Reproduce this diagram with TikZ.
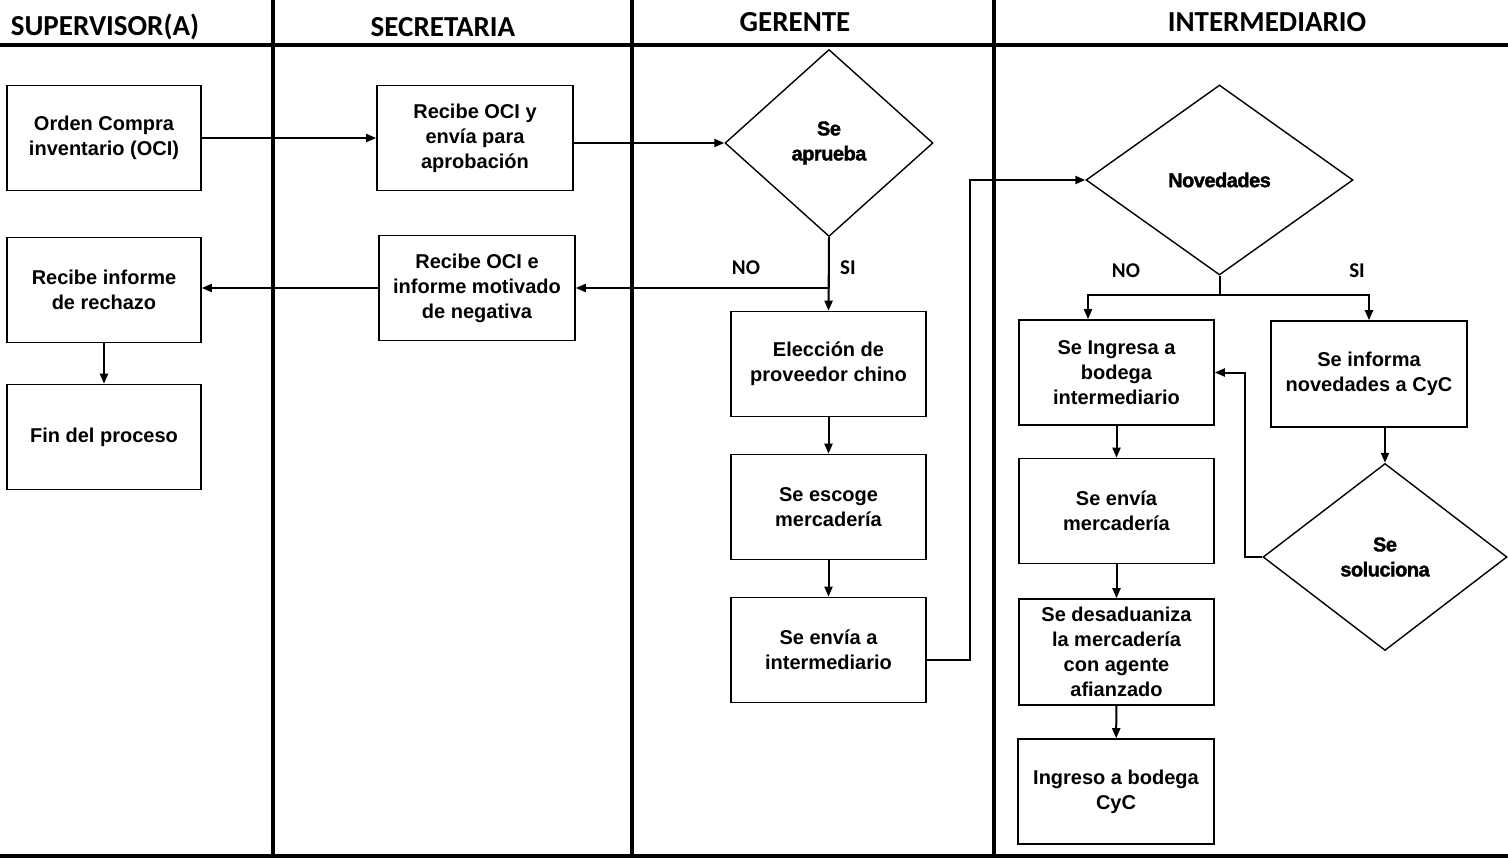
\documentclass[tikz,border=0pt]{standalone}
\usepackage{fontspec}
\setmainfont{Liberation Sans}
\newfontfamily\hdrfont{Carlito}
\newfontfamily\decfont[FakeBold=1.6,LetterSpace=-2.5]{Liberation Sans Bold}
\usetikzlibrary{shapes.geometric,arrows.meta,calc}
\newcommand\myBody{\bfseries\fontsize{20}{25}\selectfont}
\newcommand\myDec{\decfont\fontsize{20}{25}\selectfont}
\begin{document}
\begin{tikzpicture}[x=1pt,y=-1pt,
 lane/.style={line width=3.5pt},
 proc/.style={draw,line width=1.6pt,minimum width=195pt,minimum height=105pt,inner sep=0pt,align=center,font=\myBody},
 dec/.style={draw,diamond,line width=1.4pt,inner sep=0pt,align=center,font=\myDec},
 arr/.style={line width=2pt,-{Triangle[length=10pt,width=8pt]}},
 conn/.style={line width=2pt},
 hdr/.style={font=\hdrfont\bfseries\fontsize{29}{34}\selectfont},
 lbl/.style={font=\hdrfont\bfseries\fontsize{21}{24}\selectfont}]
\fill[white] (0,0) rectangle (1508,859);
\useasboundingbox (0,0) rectangle (1508,859);
% lanes
\draw[lane] (0,45) -- (1508,45);
\draw[lane] (0,856) -- (1508,856);
\draw[lane] (273,0) -- (273,856);
\draw[lane] (632,0) -- (632,856);
\draw[lane] (994,0) -- (994,856);
% headers
\node[hdr] (h1) at (105,27) {SUPERVISOR(A)};
\node[hdr] (h2) at (443,27) {SECRETARIA};
\node[hdr] (h3) at (795,22) {GERENTE};
\node[hdr] (h4) at (1267,22) {INTERMEDIARIO};
% nodes
\node[proc,minimum width=194pt] (b1) at (104,138) {Orden Compra\\inventario (OCI)};
\node[proc,minimum width=196pt] (b2) at (475,138) {Recibe OCI y\\envía para\\aprobación};
\node[dec,minimum width=208pt,minimum height=187pt] (d1) at (829,143) {Se\\aprueba};
\node[proc,minimum width=194pt] (b3) at (104,290) {Recibe informe\\de rechazo};
\node[proc,minimum width=196pt] (b4) at (477,288) {Recibe OCI e\\informe motivado\\de negativa};
\node[proc,minimum width=194pt] (b5) at (104,437) {Fin del proceso};
\node[proc] (e1) at (828.5,364) {Elección de\\proveedor chino};
\node[proc] (e2) at (828.5,507) {Se escoge\\mercadería};
\node[proc] (e3) at (828.5,650) {Se envía a\\intermediario};
\node[dec,minimum width=267pt,minimum height=190pt] (n1) at (1219.5,180) {Novedades};
\node[proc] (i1) at (1116.5,372.5) {Se Ingresa a\\bodega\\intermediario};
\node[proc,minimum width=196pt,minimum height=106pt] (i2) at (1369,374) {Se informa\\novedades a CyC};
\node[dec,minimum width=244pt,minimum height=187pt] (s1) at (1385,557) {Se\\soluciona};
\node[proc] (i3) at (1116.5,511) {Se envía\\mercadería};
\node[proc,minimum height=106pt] (i4) at (1116.5,652) {Se desaduaniza\\la mercadería\\con agente\\afianzado};
\node[proc,minimum width=196pt] (i5) at (1116,791.5) {Ingreso a bodega\\CyC};
% labels
\node[lbl] (l1) at (746,268) {NO};
\node[lbl] (l2) at (848,268) {SI};
\node[lbl] (l3) at (1126,271) {NO};
\node[lbl] (l4) at (1357,271) {SI};
% connectors
\draw[arr] (b1) -- (b2);
\draw[arr] (b2.east |- d1.west) -- (d1.west);
\draw[arr] (d1.south) -- (e1.north);
\draw[arr] (d1.south) -- (d1.south |- b4.east) -- (b4.east);
\draw[arr] (b4.west) -- (b4.west -| b3.east);
\draw[arr] (b3) -- (b5);
\draw[arr] (e1) -- (e2);
\draw[arr] (e2) -- (e3);
\coordinate (k1) at (970,0);
\draw[arr] ([yshift=-10pt]e3.east) -| (k1 |- n1.west) -- (n1.west);
\coordinate (j) at (1219.5,295);
\draw[conn] (n1.south) -- (j);
\draw[arr] (j) -| ([xshift=-28.5pt]i1.north);
\draw[arr] (j) -| (i2.north);
\draw[arr] (s1.north |- i2.south) -- (s1.north);
\draw[arr] (s1.west) -- ++(-17,0) |- (i1.east);
\draw[arr] (i1) -- (i3);
\draw[arr] (i3) -- (i4);
\draw[arr] (i4) -- (i5);
\end{tikzpicture}
\end{document}
